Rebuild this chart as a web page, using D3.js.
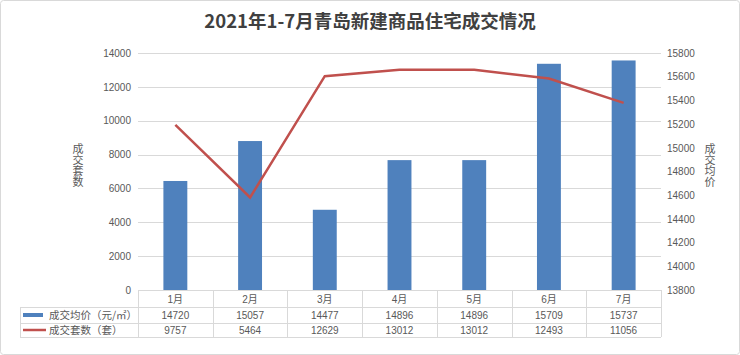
<!DOCTYPE html>
<html>
<head>
<meta charset="utf-8">
<script src="https://cdn.jsdelivr.net/npm/d3@7"></script>
<style>
	body { margin: 0; background: #fff; }
	text { font-family: "Liberation Sans", "Noto Sans CJK SC", sans-serif; fill: #595959; }
</style>
</head>
<body>
<script>
/* Data */
var months = ["1月", "2月", "3月", "4月", "5月", "6月", "7月"],
	price = [14720, 15057, 14477, 14896, 14896, 15709, 15737],   // 成交均价, bars, right axis
	count = [9757, 5464, 12629, 13012, 13012, 12493, 11056],     // 成交套数, line, left axis
	countTicks = [0, 2000, 4000, 6000, 8000, 10000, 12000, 14000],
	priceTicks = [13800, 14000, 14200, 14400, 14600, 14800, 15000, 15200, 15400, 15600, 15800],
	seriesNames = ["成交均价（元/㎡）", "成交套数（套）"];

/* Display setup */
var W = 740, H = 355,
	plot = {left: 138, right: 661, top: 53, bottom: 290},
	rowH = [17, 16, 14],
	legendLeft = 20,
	blue = "#4F81BD", red = "#C0504D", grid = "#d9d9d9";

var svg = d3.select("body").append("svg")
	.attr("width", W)
	.attr("height", H);

svg.append("rect")
	.attr("x", 0.5).attr("y", 0.5)
	.attr("width", W - 1).attr("height", H - 1)
	.attr("rx", 3)
	.style("fill", "white")
	.style("stroke", grid);

var x = d3.scaleBand().domain(months)
	.range([plot.left, plot.right])
	.paddingInner(0.68).paddingOuter(0.34);
var yCount = d3.scaleLinear().domain([0, 14000]).range([plot.bottom, plot.top]);
var yPrice = d3.scaleLinear().domain([13800, 15800]).range([plot.bottom, plot.top]);

/* Title */
svg.append("text")
	.attr("x", 370).attr("y", 28)
	.attr("text-anchor", "middle")
	.style("font-family", "'Noto Sans CJK SC', sans-serif")
	.style("font-size", "18.5px")
	.style("font-weight", "bold")
	.style("fill", "#404040")
	.text("2021年1-7月青岛新建商品住宅成交情况");

/* Gridlines + axes */
svg.append("g").selectAll("line")
	.data(countTicks.slice(1))
	.enter().append("line")
		.attr("x1", plot.left).attr("x2", plot.right)
		.attr("y1", function(d) { return Math.round(yCount(d)) + 0.5; })
		.attr("y2", function(d) { return Math.round(yCount(d)) + 0.5; })
		.style("stroke", grid);

var leftAxis = svg.append("g")
	.attr("transform", "translate(" + plot.left + ",0)")
	.call(d3.axisLeft(yCount).tickValues(countTicks).tickSize(0).tickPadding(7).tickFormat(d3.format("d")));
var rightAxis = svg.append("g")
	.attr("transform", "translate(" + plot.right + ",0)")
	.call(d3.axisRight(yPrice).tickValues(priceTicks).tickSize(0).tickPadding(6).tickFormat(d3.format("d")));
[leftAxis, rightAxis].forEach(function(a) {
	a.select(".domain").remove();
	a.selectAll("text").style("font-size", "10px").style("fill", "#595959").style("font-family", "'Liberation Sans', sans-serif");
});

// vertical axis titles, upright CJK characters
function verticalTitle(txt, cx, top) {
	svg.append("text")
		.attr("x", cx).attr("y", top)
		.style("writing-mode", "vertical-rl")
		.style("font-family", "'Noto Sans CJK SC', sans-serif")
		.style("font-size", "11px")
		.text(txt);
}
verticalTitle("成交套数", 78, 143);
verticalTitle("成交均价", 710, 143);

/* Bars */
svg.append("g").selectAll("rect")
	.data(price)
	.enter().append("rect")
		.attr("x", function(d, i) { return x(months[i]); })
		.attr("width", x.bandwidth())
		.attr("y", function(d) { return yPrice(d); })
		.attr("height", function(d) { return plot.bottom - yPrice(d); })
		.style("fill", blue);

/* Line */
var line = d3.line()
	.x(function(d, i) { return x(months[i]) + x.bandwidth() / 2; })
	.y(function(d) { return yCount(d); });
svg.append("path")
	.datum(count)
	.attr("d", line)
	.style("fill", "none")
	.style("stroke", red)
	.style("stroke-width", 2.5);

/* Data table */
var step = x.step(),
	y0 = plot.bottom, y1 = y0 + rowH[0], y2 = y1 + rowH[1], y3 = y2 + rowH[2],
	tbl = svg.append("g").style("stroke", grid).style("shape-rendering", "crispEdges");

tbl.append("line").attr("x1", plot.left).attr("x2", plot.right).attr("y1", y0 + 0.5).attr("y2", y0 + 0.5);
[y1, y2, y3].forEach(function(yy) {
	tbl.append("line").attr("x1", legendLeft).attr("x2", plot.right).attr("y1", yy + 0.5).attr("y2", yy + 0.5);
});
tbl.append("line").attr("x1", legendLeft + 0.5).attr("x2", legendLeft + 0.5).attr("y1", y1).attr("y2", y3);
d3.range(months.length + 1).forEach(function(i) {
	var xx = Math.round(plot.left + i * step) + 0.5;
	tbl.append("line").attr("x1", xx).attr("x2", xx).attr("y1", y0).attr("y2", y3);
});

function cellText(txt, cx, yTop, h) {
	svg.append("text")
		.attr("x", cx).attr("y", yTop + h / 2 + 4)
		.attr("text-anchor", "middle")
		.style("font-size", "10px")
		.text(txt);
}
months.forEach(function(m, i) {
	var cx = plot.left + (i + 0.5) * step;
	cellText(m, cx, y0, rowH[0]);
	cellText(price[i], cx, y1, rowH[1]);
	cellText(count[i], cx, y2, rowH[2]);
});

// legend keys
svg.append("rect")
	.attr("x", 23).attr("y", y1 + rowH[1] / 2 - 2)
	.attr("width", 20).attr("height", 4)
	.style("fill", blue);
svg.append("line")
	.attr("x1", 23).attr("x2", 46)
	.attr("y1", y2 + rowH[2] / 2).attr("y2", y2 + rowH[2] / 2)
	.style("stroke", red).style("stroke-width", 2.5);
[y1, y2].forEach(function(yy, i) {
	svg.append("text")
		.attr("x", 49).attr("y", yy + rowH[i + 1] / 2 + 4)
		.style("font-family", "'Noto Sans CJK SC', sans-serif")
		.style("font-size", "10.5px")
		.text(seriesNames[i]);
});
</script>
</body>
</html>
